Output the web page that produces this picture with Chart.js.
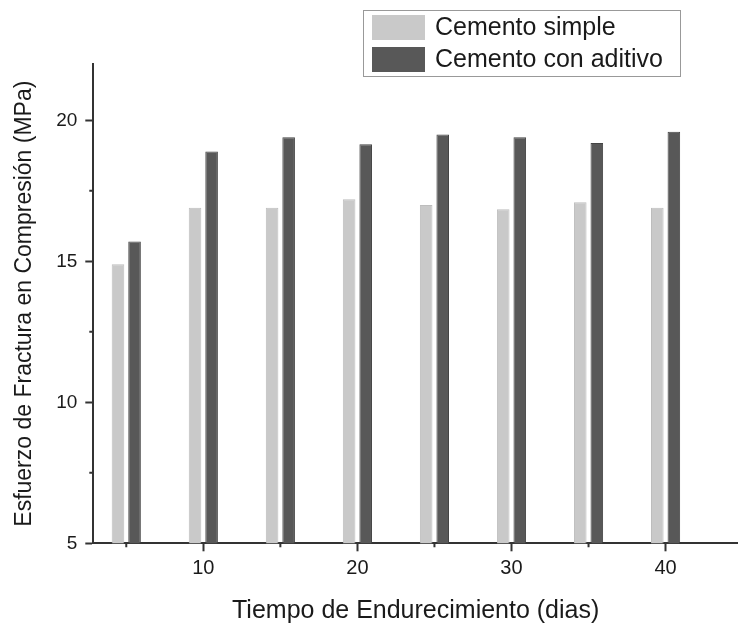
<!DOCTYPE html>
<html lang="es">
<head>
    <meta charset="UTF-8">
    <title>Esfuerzo de fractura</title>
    <script src="https://cdn.jsdelivr.net/npm/chart.js"></script>
    <style>
        * {
            margin: 0;
            padding: 0;
            box-sizing: border-box;
        }

        body {
            background: #fff;
            overflow: hidden;
        }

        .chart-container {
            position: relative;
            width: 738px;
            height: 630px;
        }
    </style>
</head>
<body>
    <div class="chart-container">
        <canvas id="myChart"></canvas>
    </div>

    <script>
        // datos
        const dias = [5, 10, 15, 20, 25, 30, 35, 40];
        const cementoSimple = [14.9, 16.9, 16.9, 17.2, 17.0, 16.85, 17.1, 16.9];
        const cementoAditivo = [15.7, 18.9, 19.4, 19.15, 19.5, 19.4, 19.2, 19.6];
        const xTicks = [10, 20, 30, 40];
        const xMinorTicks = [5, 15, 25, 35];
        const yTicks = [5, 10, 15, 20];
        const yMinorTicks = [7.5, 12.5, 17.5];

        const axisColor = '#333';
        const textColor = '#1a1a1a';
        const fontFamily = '"Liberation Sans", Arial, sans-serif';

        // marcas menores (más cortas)
        const minorTicksPlugin = {
            id: 'minorTicks',
            afterDraw(chart) {
                const ctx = chart.ctx;
                const x = chart.scales.x;
                const y = chart.scales.y;
                ctx.save();
                ctx.strokeStyle = axisColor;
                ctx.lineWidth = 2;
                ctx.beginPath();
                xMinorTicks.forEach(v => {
                    const px = x.getPixelForValue(v);
                    ctx.moveTo(px, x.top);
                    ctx.lineTo(px, x.top + 4);
                });
                yMinorTicks.forEach(v => {
                    const py = y.getPixelForValue(v);
                    ctx.moveTo(y.right, py);
                    ctx.lineTo(y.right - 4, py);
                });
                ctx.stroke();
                ctx.restore();
            }
        };

        // leyenda con marco, arriba a la derecha
        const boxLegendPlugin = {
            id: 'boxLegend',
            afterDraw(chart) {
                const ctx = chart.ctx;
                ctx.save();
                ctx.strokeStyle = '#999';
                ctx.lineWidth = 1;
                ctx.strokeRect(363.5, 10.5, 317, 66);
                ctx.font = '25px ' + fontFamily;
                ctx.textBaseline = 'middle';
                chart.data.datasets.forEach((ds, i) => {
                    const top = 15 + i * 32;
                    ctx.fillStyle = ds.backgroundColor;
                    ctx.fillRect(372, top, 53, 25);
                    ctx.fillStyle = textColor;
                    ctx.fillText(ds.label, 435, top + 13);
                });
                ctx.restore();
            }
        };

        const ctx = document.getElementById('myChart').getContext('2d');

        new Chart(ctx, {
            type: 'bar',
            data: {
                datasets: [{
                    label: 'Cemento simple',
                    data: dias.map((d, i) => ({ x: d, y: cementoSimple[i] })),
                    backgroundColor: '#c9c9c9',
                    borderColor: '#bdbdbd',
                    borderWidth: 1
                }, {
                    label: 'Cemento con aditivo',
                    data: dias.map((d, i) => ({ x: d, y: cementoAditivo[i] })),
                    backgroundColor: '#585858',
                    borderColor: '#444',
                    borderWidth: 1
                }]
            },
            options: {
                responsive: true,
                maintainAspectRatio: false,
                animation: false,
                categoryPercentage: 0.43,
                barPercentage: 0.76,
                layout: {
                    padding: { top: 64, right: 0, left: 0, bottom: 0 }
                },
                plugins: {
                    legend: { display: false },
                    tooltip: { enabled: false }
                },
                scales: {
                    x: {
                        type: 'linear',
                        offset: false,
                        min: 2.86,
                        max: 44.7,
                        afterBuildTicks: s => { s.ticks = xTicks.map(v => ({ value: v })); },
                        afterFit: s => { s.height = 86.7; },
                        grid: {
                            offset: false,
                            drawOnChartArea: false,
                            drawTicks: true,
                            tickLength: 8,
                            tickWidth: 2,
                            tickColor: axisColor
                        },
                        border: { display: true, color: axisColor, width: 2 },
                        ticks: {
                            color: textColor,
                            padding: 5,
                            maxRotation: 0,
                            font: { family: fontFamily, size: 20 }
                        },
                        title: {
                            display: true,
                            text: 'Tiempo de Endurecimiento (dias)',
                            color: textColor,
                            padding: { top: 0, bottom: 4 },
                            font: { family: fontFamily, size: 25 }
                        }
                    },
                    y: {
                        min: 5,
                        max: 22,
                        afterBuildTicks: s => { s.ticks = yTicks.map(v => ({ value: v })); },
                        afterFit: s => { s.width = 93.3; },
                        grid: {
                            drawOnChartArea: false,
                            drawTicks: true,
                            tickLength: 8,
                            tickWidth: 2,
                            tickColor: axisColor
                        },
                        border: { display: true, color: axisColor, width: 2 },
                        ticks: {
                            color: textColor,
                            padding: 8,
                            font: { family: fontFamily, size: 19 }
                        },
                        title: {
                            display: true,
                            text: 'Esfuerzo de Fractura en Compresión (MPa)',
                            color: textColor,
                            padding: { top: 11, bottom: 0 },
                            font: { family: fontFamily, size: 23 }
                        }
                    }
                }
            },
            plugins: [minorTicksPlugin, boxLegendPlugin]
        });
    </script>
</body>
</html>
